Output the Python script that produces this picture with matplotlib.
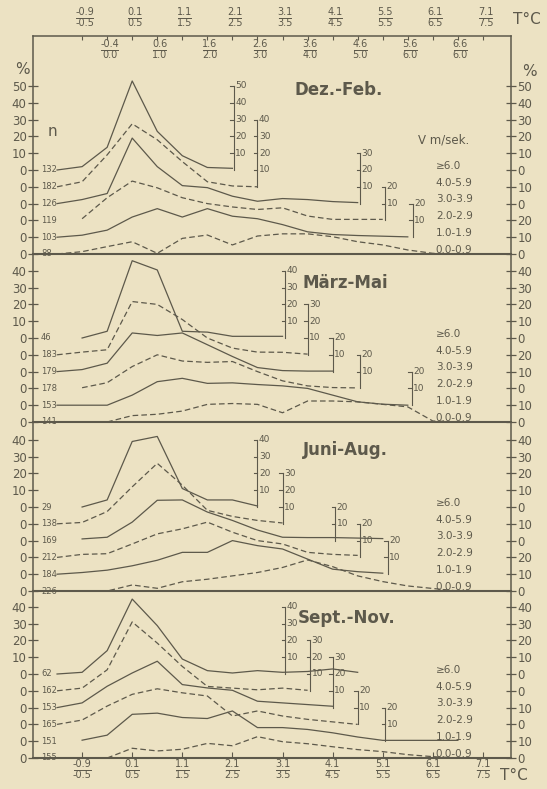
import matplotlib.pyplot as plt
from matplotlib.transforms import blended_transform_factory

bg = "#ece2c3"
ink = "#5d594b"

# temperature classes, every half degree: index 0 = -1.4/-1.0 ... index 17 = 7.1/7.5
top_labels = [("-0.9", "-0.5"), ("0.1", "0.5"), ("1.1", "1.5"), ("2.1", "2.5"), ("3.1", "3.5"),
              ("4.1", "4.5"), ("5.5", "5.5"), ("6.1", "6.5"), ("7.1", "7.5")]
inner_labels = [("-0.4", "0.0"), ("0.6", "1.0"), ("1.6", "2.0"), ("2.6", "3.0"), ("3.6", "4.0"),
                ("4.6", "5.0"), ("5.6", "6.0"), ("6.6", "6.0")]
bottom_labels = [("-0.9", "-0.5"), ("0.1", "0.5"), ("1.1", "1.5"), ("2.1", "2.5"), ("3.1", "3.5"),
                 ("4.1", "4.5"), ("5.1", "5.5"), ("6.1", "6.5"), ("7.1", "7.5")]

seasons = ["Dez.-Feb.", "März-Mai", "Juni-Aug.", "Sept.-Nov."]
wind_classes = ["\u22656.0", "4.0-5.9", "3.0-3.9", "2.0-2.9", "1.0-1.9", "0.0-0.9"]

# number of cases per wind class
n_dez = [132, 182, 126, 119, 103, 88]
n_mar = [46, 183, 179, 178, 153, 141]
n_jun = [29, 138, 169, 212, 184, 226]
n_sep = [62, 162, 153, 165, 151, 155]

# frequency curves in %, (first temperature class, values), same order as wind_classes
dez = [
    (0, [0, 2, 13.5, 53, 23, 8.5, 1.5, 1]),
    (0, [0, 3, 19, 37.5, 28, 15, 3, 0.5, 0]),
    (0, [0, 2.4, 6, 39, 22, 10.7, 9.5, 4.4, 1.4, 3, 2.4, 1.2, 0.6]),
    (1, [1, 13.5, 23.4, 19.4, 13.5, 10, 8, 6.5, 7.5, 2.6, 0.6, 0.6, 0.6]),
    (0, [0, 1.2, 4.2, 12, 17, 12, 17, 12.5, 11, 7.5, 3.2, 1.6, 1, 0.6, 0.2]),
    (0, [0, 1.4, 4.4, 7.3, 0.4, 9.3, 11.3, 5.4, 10.7, 12, 12, 10.3, 7.3, 5.4, 2.4, 0.4, 0, 0, 0]),
]
mar = [
    (1, [0, 4, 46, 40.5, 4, 3.5, 1, 1, 1]),
    (0, [0, 1.6, 3, 31.7, 30, 21, 10, 4, 1.6, 1.5, 0.4]),
    (0, [0, 1.2, 5, 23, 21.5, 23, 16, 9, 2.4, 0.6, 0.3, 0.3]),
    (1, [0.4, 3.4, 13, 20, 16.3, 15.5, 16, 10, 4.5, 1.5, 0.5, 0.3]),
    (0, [0, 0, 0, 6, 14, 16, 13, 13.3, 12.3, 11.5, 10, 6, 2, 0.6, 0]),
    (2, [0, 3.8, 4.6, 6.5, 10.5, 11, 10.5, 5.5, 12.5, 12.5, 12, 10.5, 9, 0.6, 0, 0, 0]),
]
jun = [
    (1, [0, 4.2, 39, 42, 11, 4.2, 4.2, 0.6]),
    (0, [0, 0.8, 7.3, 22, 36, 23, 8, 4.4, 2, 0.5]),
    (1, [1, 2, 11, 24, 24.2, 17, 12, 6.3, 2, 1.8, 1.8, 1.5, 1.2]),
    (0, [0, 1.8, 2.2, 8, 14, 17, 21, 15, 10, 8, 3, 1.8, 1.2]),
    (0, [0, 1, 2.4, 5, 8.3, 13, 13, 20, 17, 15, 9, 3, 1.5, 0.6]),
    (0, [0, 0, 0, 3.6, 1.6, 5.5, 7, 9, 11, 14, 18.5, 14.5, 9, 5.6, 3, 1.5, 0, 0, 0]),
]
sep = [
    (0, [0, 1, 13.9, 44.6, 28.8, 8.9, 2, 0.6, 2, 1, 1.5, 3, 1]),
    (0, [0, 1.6, 12.5, 41, 28.4, 14.5, 2.6, 1.6, 0.6, 1.6, 0.3]),
    (0, [0, 2.8, 12.7, 20.6, 27.6, 13.7, 11.7, 10.3, 3.8, 2.8, 1.8, 0.8]),
    (0, [0, 2.6, 10.9, 17.9, 21.2, 18.8, 16.9, 5, 8, 5, 3, 1.5, 0]),
    (1, [0.6, 3.6, 16, 16.7, 14.1, 13.5, 18, 8.1, 8.1, 7, 5, 2.5, 0.5, 0.5, 0.5, 0.5]),
    (2, [0, 5.8, 4.2, 5.2, 8.7, 7.3, 12.7, 9.7, 8.5, 6.7, 5, 3.8, 2, 0.8, 0, 0, 0]),
]

# small scales at the curve ends: (temperature class, top value)
dez_bars = [(7.05, 50), (8.0, 40), (12.1, 30), (13.1, 20), (14.2, 20)]
mar_bars = [(9.1, 40), (10.0, 30), (11.0, 20), (12.1, 20), (14.15, 20)]
jun_bars = [(8.0, 40), (9.0, 30), (11.1, 20), (12.1, 20), (13.2, 20)]
sep_bars = [(9.1, 40), (10.1, 30), (11.0, 30), (12.0, 20), (13.1, 20)]

# right hand axis labels, top to bottom
right_dez = ["50", "40", "30", "20", "10", "0", "10", "0", "20", "10", "0"]
right_mar = ["40", "30", "20", "10", "0", "20", "10", "0", "10", "0"]
right_jun = ["40", "30", "20", "10", "0", "10", "0", "20", "10", "0"]
right_sep = ["40", "30", "20", "10", "0", "0", "10", "0", "10", "0"]

panels = [
    (seasons[0], n_dez, dez, dez_bars, right_dez),
    (seasons[1], n_mar, mar, mar_bars, right_mar),
    (seasons[2], n_jun, jun, jun_bars, right_jun),
    (seasons[3], n_sep, sep, sep_bars, right_sep),
]

# layout in pixels
W, H = 547, 789
L, R = 33, 511
rows = [(36, 254), (254, 422), (422, 591), (591, 758)]
title_pos = [(11.25, 97.6), (11.5, 82.7), (11.5, 83.9), (11.57, 83.3)]
unit = 1.68  # px per percent
x0, x1 = -0.96, 18.12
dashed = [False, True, False, True, False, True]

fig = plt.figure(figsize=(W / 100, H / 100), dpi=100)
fig.patch.set_facecolor(bg)


def frac(ax, k, ybar, num, den, size):
    tr = blended_transform_factory(ax.transData, fig.transFigure)
    half = 0.085 * max(len(num), len(den))
    ax.text(k, 1 - (ybar - 5.5) / H, num, transform=tr, ha="center", va="center",
            fontsize=size, color=ink)
    ax.text(k, 1 - (ybar + 6) / H, den, transform=tr, ha="center", va="center",
            fontsize=size, color=ink)
    ax.plot([k - half, k + half], [1 - ybar / H] * 2, transform=tr, color=ink,
            lw=0.7, clip_on=False)


axes = []
for i, (title, n, curves, bars, rlabels) in enumerate(panels):
    top, bot = rows[i]
    ax = fig.add_axes([L / W, 1 - bot / H, (R - L) / W, (bot - top) / H])
    ax.set_facecolor("none")
    ymax = (bot - top) / unit
    ax.set_xlim(x0, x1)
    ax.set_ylim(0, ymax)

    for j, (start, vals) in enumerate(curves):
        base = 10 * (5 - j)
        xs = list(range(start, start + len(vals)))
        ys = [base + v for v in vals]
        if dashed[j]:
            ax.plot(xs, ys, color=ink, lw=0.9, dashes=(4.5, 2.5))
        else:
            ax.plot(xs, ys, color=ink, lw=0.9)

    for j, (bx, btop) in enumerate(bars):
        base = 10 * (5 - j)
        ax.plot([bx, bx], [base, base + btop], color=ink, lw=0.8)
        for v in range(10, btop + 1, 10):
            ax.plot([bx - 0.14, bx], [base + v] * 2, color=ink, lw=0.8)
            ax.text(bx + 0.06, base + v, str(v), fontsize=6.5, color=ink,
                    ha="left", va="center")

    for j, cnt in enumerate(n):
        base = 10 * (5 - j)
        ax.text(-0.64, base, str(cnt), fontsize=6, color=ink, ha="left", va="center")
        ax.text(15.12, base + 2.5, wind_classes[j], fontsize=7.5, color=ink,
                ha="left", va="center")

    tx, ty = title_pos[i]
    ax.text(tx, ty, title, fontsize=12, fontweight="bold", color=ink,
            ha="center", va="center")

    # left axis
    upper = [50, 40, 30, 20, 10] if i == 0 else [40, 30, 20, 10]
    pos = [50 + v for v in upper] + [50, 40, 30, 20, 10, 0]
    labs = [str(v) for v in upper] + ["0"] * 6
    ax.set_yticks(pos, labs)
    ax.tick_params(axis="y", direction="inout", length=7, width=0.9, colors=ink,
                   labelsize=8.5, pad=1)

    # right axis
    twin = ax.twinx()
    twin.set_ylim(0, ymax)
    rpos = [10 * (len(rlabels) - 1 - m) for m in range(len(rlabels))]
    twin.set_yticks(rpos, rlabels)
    twin.tick_params(axis="y", direction="inout", length=7, width=0.9, colors=ink,
                     labelsize=8.5, pad=1)
    for s in twin.spines.values():
        s.set_visible(False)

    for s in ["left", "right"]:
        ax.spines[s].set_color(ink)
        ax.spines[s].set_linewidth(1.1)
    ax.spines["bottom"].set_color(ink)
    ax.spines["bottom"].set_linewidth(1.5)
    ax.spines["top"].set_color(ink)
    ax.spines["top"].set_linewidth(1.1)
    ax.spines["top"].set_visible(i == 0)

    if i == 0:
        ax.set_xticks(range(1, 18))
        ax.tick_params(axis="x", top=True, bottom=False, direction="in", length=3,
                       width=0.8, colors=ink, labelbottom=False)
        ax.text(-0.2, 73, "n", fontsize=11, color=ink, ha="center", va="center")
        ax.text(14.4, 67.9, "V m/sek.", fontsize=8.5, color=ink, ha="left", va="center")
    elif i == 3:
        ax.set_xticks(range(1, 18, 2))
        ax.tick_params(axis="x", top=False, bottom=True, direction="in", length=4,
                       width=0.8, colors=ink, labelbottom=False)
    else:
        ax.set_xticks([])
    axes.append(ax)

# temperature class labels as fractions
for m, (num, den) in enumerate(top_labels):
    frac(axes[0], 2 * m + 1.1, 17.5, num, den, 7)
for m, (num, den) in enumerate(inner_labels):
    frac(axes[0], 2 * m + 2.1, 49.5, num, den, 7)
for m, (num, den) in enumerate(bottom_labels):
    frac(axes[3], 2 * m + 1, 769.5, num, den, 7)

fig.text(513 / W, 1 - 20 / H, "T\u00b0C", fontsize=11, color=ink, ha="left", va="center")
fig.text(500 / W, 1 - 776 / H, "T\u00b0C", fontsize=11, color=ink, ha="left", va="center")
fig.text(22 / W, 1 - 69 / H, "%", fontsize=11, color=ink, ha="center", va="center")
fig.text(529 / W, 1 - 72 / H, "%", fontsize=11, color=ink, ha="center", va="center")

fig.savefig("out.png", dpi=100, facecolor=bg)
